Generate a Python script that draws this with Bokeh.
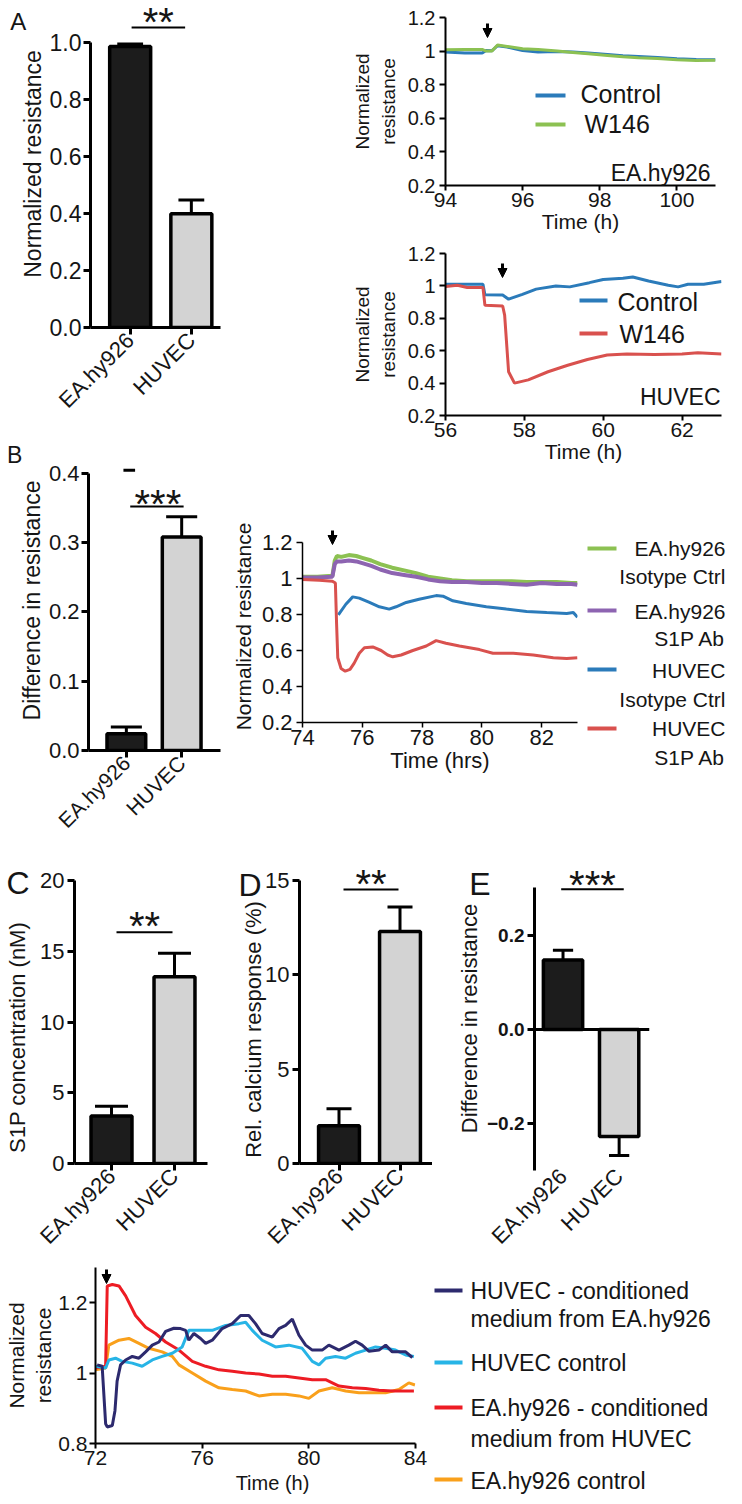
import math
from bokeh.plotting import figure
from bokeh.layouts import row, column
from bokeh.models import (ColumnDataSource, Range1d, FixedTicker, Label, Arrow,
                          NormalHead, Span)
from bokeh.embed import file_html
from bokeh.resources import INLINE

FONT = "Liberation Sans"
INK = "#151515"

# ===================== data =====================
cell_lines = ["EA.hy926", "HUVEC"]
bar_fill = ["#1c1c1c", "#d3d3d3"]

a_norm_res = [0.986, 0.399]
a_norm_res_err = [0.009, 0.048]
b_diff_res = [0.024, 0.308]
b_diff_res_err = [0.010, 0.029]
c_s1p_nM = [3.35, 13.2]
c_s1p_nM_err = [0.70, 1.65]
d_calcium = [2.0, 12.3]
d_calcium_err = [0.90, 1.30]
e_diff_res = [0.147, -0.227]
e_diff_res_err = [0.021, 0.040]

# A, EA.hy926 time course
a_ea_time = [94.0, 94.5, 94.95, 95.05, 95.2, 95.35, 95.6, 96.0, 96.4, 96.9, 97.3,
             97.7, 98.2, 98.6, 99.0, 99.5, 100.0, 100.5, 101.0]
a_ea_control = [0.994, 0.988, 0.988, 1.004, 1.002, 1.032, 1.024, 1.004, 0.994, 0.998,
                0.994, 0.988, 0.980, 0.972, 0.968, 0.962, 0.954, 0.950, 0.948]
a_ea_w146 = [1.008, 1.010, 1.010, 1.000, 1.000, 1.036, 1.028, 1.014, 1.010, 1.000,
             0.992, 0.984, 0.974, 0.966, 0.960, 0.956, 0.948, 0.944, 0.946]

# A, HUVEC time course
a_hu_time_ctrl = [56.0, 56.8, 56.95, 57.0, 57.45, 57.6, 57.95, 58.3, 58.8, 59.15, 59.65,
                  60.0, 60.5, 60.75, 61.15, 61.65, 61.9, 62.15, 62.55, 63.0]
a_hu_control = [1.010, 1.010, 1.010, 0.945, 0.944, 0.918, 0.948, 0.980, 1.000, 0.994,
                1.020, 1.040, 1.047, 1.055, 1.030, 1.004, 0.994, 1.010, 1.010, 1.027]
a_hu_time_w146 = [56.0, 56.3, 56.55, 56.95, 57.0, 57.45, 57.5, 57.6, 57.75, 58.1, 58.6,
                  59.1, 59.6, 60.1, 60.6, 61.3, 62.0, 62.4, 63.0]
a_hu_w146 = [0.996, 1.004, 0.990, 0.990, 0.880, 0.876, 0.820, 0.470, 0.400, 0.420, 0.470,
             0.510, 0.546, 0.573, 0.580, 0.577, 0.580, 0.588, 0.580]

# B, time courses
b_time_ea = [74.0, 74.5, 75.0, 75.08, 75.15, 75.3, 75.55, 75.8, 76.0, 76.3, 76.6, 77.0,
             77.4, 77.8, 78.2, 78.6, 79.0, 79.5, 80.0, 80.5, 81.0, 81.5, 82.0, 82.5, 83.0, 83.2]
b_ea_isotype = [1.010, 1.010, 1.015, 1.100, 1.125, 1.120, 1.130, 1.125, 1.115, 1.100, 1.080,
                1.060, 1.045, 1.030, 1.010, 1.000, 0.990, 0.985, 0.985, 0.985, 0.985, 0.980,
                0.980, 0.980, 0.975, 0.975]
b_ea_s1pab = [1.005, 1.005, 1.010, 1.080, 1.095, 1.095, 1.100, 1.095, 1.085, 1.070, 1.050,
              1.030, 1.020, 1.010, 0.995, 0.985, 0.980, 0.980, 0.975, 0.975, 0.970, 0.965,
              0.975, 0.970, 0.970, 0.965]
b_time_hu_iso = [75.2, 75.45, 75.68, 75.9, 76.24, 76.57, 76.9, 77.13, 77.47, 77.9, 78.47,
                 78.7, 79.03, 79.48, 80.15, 80.82, 81.5, 82.17, 82.84, 83.06, 83.2]
b_hu_isotype = [0.798, 0.857, 0.898, 0.891, 0.867, 0.843, 0.830, 0.843, 0.867, 0.885, 0.905,
                0.902, 0.876, 0.861, 0.843, 0.830, 0.817, 0.811, 0.806, 0.811, 0.785]
b_time_hu_ab = [74.0, 74.56, 75.0, 75.1, 75.14, 75.18, 75.29, 75.43, 75.59, 75.73, 75.9,
                76.07, 76.35, 76.63, 76.85, 77.02, 77.3, 77.69, 78.14, 78.47, 78.8, 79.25,
                79.92, 80.37, 81.05, 81.72, 82.39, 82.84, 83.2]
b_hu_s1pab = [0.995, 0.990, 0.985, 0.975, 0.750, 0.560, 0.500, 0.485, 0.495, 0.530, 0.585,
              0.615, 0.620, 0.600, 0.575, 0.565, 0.575, 0.600, 0.625, 0.655, 0.640, 0.625,
              0.605, 0.585, 0.585, 0.575, 0.560, 0.555, 0.560]

# conditioned medium time courses (bottom panel)
f_time_hu_cm = [72.06, 72.25, 72.38, 72.44, 72.63, 72.73, 72.81, 72.94, 73.13, 73.38, 73.63,
                73.88, 74.13, 74.38, 74.63, 74.94, 75.19, 75.38, 75.5, 75.69, 75.94, 76.13,
                76.38, 76.75, 77.13, 77.44, 77.75, 78.0, 78.25, 78.63, 78.88, 79.13, 79.38,
                79.63, 79.88, 80.13, 80.5, 80.75, 81.13, 81.5, 81.75, 82.0, 82.25, 82.63,
                82.88, 83.13, 83.63, 83.88]
f_hu_cm = [1.023, 1.019, 0.856, 0.847, 0.851, 0.893, 0.977, 1.023, 1.037, 1.047, 1.042,
           1.060, 1.079, 1.088, 1.118, 1.127, 1.126, 1.121, 1.093, 1.112, 1.098, 1.084,
           1.093, 1.126, 1.140, 1.163, 1.163, 1.140, 1.112, 1.102, 1.126, 1.135, 1.153,
           1.107, 1.079, 1.065, 1.065, 1.079, 1.065, 1.079, 1.090, 1.079, 1.062, 1.065,
           1.079, 1.060, 1.060, 1.044]
f_time_hu_ctrl = [72.0, 72.38, 72.5, 72.75, 73.0, 73.38, 73.75, 74.13, 74.5, 74.88, 75.25,
                  75.5, 75.88, 76.38, 76.88, 77.38, 77.63, 77.88, 78.25, 78.75, 79.25, 79.75,
                  80.13, 80.38, 80.63, 81.0, 81.38, 81.75, 82.13, 82.5, 82.88, 83.25, 83.63, 83.94]
f_hu_ctrl = [1.019, 1.014, 1.037, 1.042, 1.033, 1.028, 1.019, 1.037, 1.047, 1.056, 1.074,
             1.121, 1.121, 1.121, 1.135, 1.140, 1.144, 1.121, 1.093, 1.074, 1.079, 1.070,
             1.033, 1.023, 1.042, 1.047, 1.042, 1.056, 1.065, 1.074, 1.070, 1.065, 1.051, 1.047]
f_time_ea_cm = [72.0, 72.38, 72.44, 72.63, 72.88, 73.13, 73.5, 73.88, 74.25, 74.63, 75.13,
                75.63, 76.13, 76.63, 77.13, 77.63, 78.13, 78.63, 79.13, 79.63, 80.13, 80.63,
                81.13, 81.63, 82.13, 82.63, 83.13, 83.94]
f_ea_cm = [1.014, 1.019, 1.247, 1.251, 1.247, 1.219, 1.163, 1.130, 1.112, 1.088, 1.065,
           1.033, 1.019, 1.009, 1.005, 1.000, 0.997, 0.991, 0.991, 0.986, 0.981, 0.981,
           0.963, 0.958, 0.956, 0.951, 0.949, 0.949]
f_time_ea_ctrl = [72.0, 72.38, 72.5, 72.88, 73.25, 73.63, 74.0, 74.5, 74.88, 75.13, 75.63,
                  76.13, 76.63, 77.13, 77.63, 78.13, 78.63, 79.13, 79.63, 80.0, 80.38, 80.88,
                  81.38, 81.88, 82.38, 82.88, 83.38, 83.75, 83.98]
f_ea_ctrl = [1.009, 1.014, 1.079, 1.093, 1.098, 1.084, 1.070, 1.060, 1.047, 1.023, 1.000,
             0.977, 0.958, 0.953, 0.949, 0.935, 0.940, 0.940, 0.935, 0.928, 0.949, 0.958,
             0.949, 0.944, 0.944, 0.944, 0.953, 0.972, 0.966]

norm_ticks = [0.2, 0.4, 0.6, 0.8, 1, 1.2]

# ===================== helpers =====================
def cal(pa, va, pb, vb):
    k = (vb - va) / (pb - pa)
    return lambda px: va + (px - pa) * k


class Panel:
    def __init__(self, canvas, frame=None, xcal=None, ycal=None, axes=True):
        cx0, cy0, cx1, cy1 = canvas
        if frame is None:
            frame = canvas
        if xcal is None:
            xcal = cal(cx0, 0, cx1, 1)
        if ycal is None:
            ycal = cal(cy1, 0, cy0, 1)
        fx0, fy0, fx1, fy1 = frame
        self.X, self.Y = xcal, ycal
        extra = {} if axes else dict(x_axis_location=None, y_axis_location=None)
        p = figure(width=cx1 - cx0, height=cy1 - cy0,
                   x_range=Range1d(xcal(fx0), xcal(fx1)),
                   y_range=Range1d(ycal(fy1), ycal(fy0)),
                   min_border_left=fx0 - cx0, min_border_right=cx1 - fx1,
                   min_border_top=fy0 - cy0, min_border_bottom=cy1 - fy1,
                   output_backend="svg", toolbar_location=None, **extra)
        p.frame_align = False
        p.xgrid.visible = False
        p.ygrid.visible = False
        p.outline_line_color = None
        p.border_fill_color = "white"
        self.p = p

    def label(self, px, py, s, size, align="left", baseline="middle", style="normal",
              side=None, angle=0):
        lab = Label(x=self.X(px), y=self.Y(py), text=s, text_font=FONT,
                    text_font_size=f"{size}px", text_align=align, angle=angle,
                    text_baseline=baseline, text_font_style=style, text_color=INK)
        if side is None:
            self.p.add_layout(lab)
        else:
            self.p.add_layout(lab, side)

    def stars(self, pcx, pcy, s, size=40):
        self.label(pcx, pcy + 6, s, size, align="center", baseline="alphabetic")

    def seg(self, px0, py0, px1, py1, color="black", w=2):
        self.p.add_layout(Arrow(end=None, x_start=self.X(px0), y_start=self.Y(py0),
                                x_end=self.X(px1), y_end=self.Y(py1),
                                line_color=color, line_width=w))

    def down_arrow(self, px, ptop, ptip):
        self.p.add_layout(Arrow(end=NormalHead(size=9, fill_color="black", line_color="black",
                                               line_width=1),
                                x_start=self.X(px), y_start=self.Y(ptop - 2),
                                x_end=self.X(px), y_end=self.Y(ptip),
                                line_color="black", line_width=3))


def style_axis(ax, lw, tick_fs, label_fs, tick_out=7, tick_standoff=4, label_standoff=6):
    ax.axis_line_width = lw
    ax.axis_line_color = "black"
    ax.major_tick_line_width = lw
    ax.major_tick_line_color = "black"
    ax.major_tick_out = tick_out
    ax.major_tick_in = 0
    ax.minor_tick_line_color = None
    ax.major_label_text_font = FONT
    ax.major_label_text_font_size = f"{tick_fs}px"
    ax.major_label_text_color = INK
    ax.major_label_standoff = tick_standoff
    ax.axis_label_text_font = FONT
    ax.axis_label_text_font_size = f"{label_fs}px"
    ax.axis_label_text_font_style = "normal"
    ax.axis_label_text_color = INK
    ax.axis_label_standoff = label_standoff


def bar_panel(P, vals, errs, width, cap_px, yticks, ybounds, ylabel,
              tick_fs, ylabel_fs, cat_fs, overrides=None, tick_standoff=3,
              label_standoff=2, bold=False):
    p = P.p
    xs = [i + 1 for i in range(len(cell_lines))]
    src = ColumnDataSource(dict(x=xs, top=vals, fill=bar_fill))
    ends = [v + e if v >= 0 else v - e for v, e in zip(vals, errs)]
    half = cap_px * (P.X(1) - P.X(0)) / 2
    p.segment(x0=xs, y0=vals, x1=xs, y1=ends, line_color="black", line_width=3)
    p.segment(x0=[x - half for x in xs], y0=ends, x1=[x + half for x in xs], y1=ends,
              line_color="black", line_width=3)
    p.vbar(x="x", top="top", bottom=0, width=width, fill_color="fill",
           line_color="black", line_width=3.5, source=src)
    xa, ya = p.xaxis[0], p.yaxis[0]
    style_axis(xa, 3, cat_fs, 10, tick_out=7, tick_standoff=2)
    style_axis(ya, 3, tick_fs, ylabel_fs, tick_out=7, tick_standoff=tick_standoff,
               label_standoff=label_standoff)
    xa.ticker = FixedTicker(ticks=xs)
    xa.major_label_overrides = {x: c for x, c in zip(xs, cell_lines)}
    xa.major_label_orientation = math.pi / 4
    ya.ticker = FixedTicker(ticks=yticks)
    if overrides:
        ya.major_label_overrides = overrides
    ya.bounds = ybounds
    if ylabel:
        ya.axis_label = ylabel
    if bold:
        ya.major_label_text_font_style = "bold"


def line_axes(P, xticks, xbounds, ybounds, xlabel, ylabel, lw, xtick_fs, ytick_fs,
              xlabel_fs, ylabel_fs, yticks=norm_ticks, y_label_standoff=6, y_tick_standoff=4):
    p = P.p
    xa, ya = p.xaxis[0], p.yaxis[0]
    style_axis(xa, lw, xtick_fs, xlabel_fs, tick_out=5, tick_standoff=2, label_standoff=0)
    style_axis(ya, lw, ytick_fs, ylabel_fs, tick_out=6, tick_standoff=y_tick_standoff,
               label_standoff=y_label_standoff)
    xa.ticker = FixedTicker(ticks=xticks)
    ya.ticker = FixedTicker(ticks=yticks)
    ya.major_label_overrides = {1: "1"}
    if xbounds is not None:
        xa.bounds = xbounds
    ya.bounds = ybounds
    if xlabel:
        xa.axis_label = xlabel
    ya.axis_label = ylabel


# ===================== colours =====================
BLUE = "#2b7bba"
GREEN = "#8cc152"
RED_A = "#d9514e"
PURPLE = "#8d64b1"
NAVY = "#2d2a6e"
CYAN = "#27b4e6"
RED_F = "#ed1c24"
ORANGE = "#f9a01b"

# ===================== panel A (bar) =====================
PA = Panel((8, 0, 236, 440), (92, 0, 228, 327), cal(133.5, 1, 197.5, 2), cal(327, 0, 42, 1.0))
bar_panel(PA, a_norm_res, a_norm_res_err, 0.67, 27, [0, 0.2, 0.4, 0.6, 0.8, 1.0], (0, 1.0),
          "Normalized resistance", 23, 23, 22, overrides={0: "0.0", 1: "1.0"},
          tick_standoff=2, label_standoff=1)
PA.label(8, 21, "A", 24, side="left")
PA.stars(163, 15, "**")
PA.seg(135, 27, 191, 27)

# ===================== panel B (bar) =====================
PB = Panel((8, 440, 236, 843), (92, 450, 228, 755), cal(131, 1, 188, 2), cal(755, 0, 473, 0.4))
bar_panel(PB, b_diff_res, b_diff_res_err, 0.70, 32, [0, 0.1, 0.2, 0.3, 0.4], (0, 0.4),
          "Difference in resistance", 22, 23, 21, overrides={0: "0.0"},
          tick_standoff=2, label_standoff=1)
PB.label(8, 455, "B", 23, side="left")
PB.stars(163.5, 498, "***")
PB.seg(135, 507, 190, 507)
PB.seg(128, 470, 140, 470, w=3)

# ===================== panel A (EA.hy926 trace) =====================
PAT = Panel((236, 0, 734, 238), (453, 17, 723, 185), cal(453, 94, 723, 101), cal(185, 0.2, 17, 1.2))
PAT.p.line(a_ea_time, a_ea_control, line_color=BLUE, line_width=3)
PAT.p.line(a_ea_time, a_ea_w146, line_color=GREEN, line_width=3)
line_axes(PAT, [94, 96, 98, 100], None, (0.2, 1.2), "Time (h)", "Normalized\nresistance",
          2, 21, 20, 21, 19)
PAT.down_arrow(495, 25, 37)
PAT.seg(543, 95, 573, 95, color=BLUE, w=4)
PAT.label(588, 93.5, "Control", 25)
PAT.seg(543, 124, 573, 124, color=GREEN, w=4)
PAT.label(592, 123.5, "W146", 25)
PAT.label(718, 172, "EA.hy926", 23, align="right")

# ===================== panel A (HUVEC trace) =====================
PAB = Panel((236, 238, 734, 472), (453, 253, 729, 415), cal(453, 56, 729, 63), cal(415, 0.2, 253, 1.2))
PAB.p.line(a_hu_time_ctrl, a_hu_control, line_color=BLUE, line_width=3)
PAB.p.line(a_hu_time_w146, a_hu_w146, line_color=RED_A, line_width=3)
line_axes(PAB, [56, 58, 60, 62], None, (0.2, 1.2), "Time (h)", "Normalized\nresistance",
          2, 21, 20, 21, 19)
PAB.down_arrow(510, 265, 277)
PAB.seg(587, 300, 615, 300, color=BLUE, w=4)
PAB.label(625, 301, "Control", 25)
PAB.seg(587, 333, 615, 333, color=RED_A, w=4)
PAB.label(627, 333, "W146", 25)
PAB.label(728, 396, "HUVEC", 23, align="right")

# ===================== panel B (traces) =====================
PBL = Panel((236, 472, 589, 843), (310, 530, 585, 722), cal(310, 74, 585, 83.2), cal(722, 0.2, 542, 1.2))
PBL.p.line(b_time_ea, b_ea_isotype, line_color=GREEN, line_width=4)
PBL.p.line(b_time_ea, b_ea_s1pab, line_color=PURPLE, line_width=4)
PBL.p.line(b_time_hu_iso, b_hu_isotype, line_color=BLUE, line_width=3)
PBL.p.line(b_time_hu_ab, b_hu_s1pab, line_color=RED_A, line_width=3)
line_axes(PBL, [74, 76, 78, 80, 82], (74, 83.2), (0.2, 1.2), "Time (hrs)",
          "Normalized resistance", 1.5, 22, 22, 22, 21, y_label_standoff=4)
PBL.down_arrow(340, 531, 544)

# legend for panel B traces
LB = Panel((589, 472, 734, 843), axes=False)
b_leg = [(GREEN, 548, ["EA.hy926", "Isotype Ctrl"], [548, 576]),
         (PURPLE, 610, ["EA.hy926", "S1P Ab"], [611, 638]),
         (BLUE, 669, ["HUVEC", "Isotype Ctrl"], [670, 699]),
         (RED_A, 728, ["HUVEC", "S1P Ab"], [728, 757])]
for col, ly, lines, tys in b_leg:
    LB.seg(595, ly, 624, ly, color=col, w=4)
    for s, ty in zip(lines, tys):
        LB.label(733, ty, s, 21, align="right")

# ===================== panel C =====================
PC = Panel((8, 843, 222, 1260), (82, 880, 215, 1165), cal(119, 1, 182, 2), cal(1165, 0, 880, 20))
bar_panel(PC, c_s1p_nM, c_s1p_nM_err, 0.65, 33, [0, 5, 10, 15, 20], (0, 20),
          None, 22, 22, 22)
PC.label(25, 1038, "S1P concentration (nM)", 22, align="center", angle=math.pi / 2, side="left")
PC.label(14, 883, "C", 32, side="above")
PC.stars(152, 920, "**")
PC.seg(124, 932, 180, 932)

# ===================== panel D =====================
PD = Panel((222, 843, 440, 1260), (307, 865, 440, 1163), cal(346.5, 1, 407.5, 2), cal(1163, 0, 880, 15))
bar_panel(PD, d_calcium, d_calcium_err, 0.67, 25, [0, 5, 10, 15], (0, 15),
          None, 22, 22, 22)
PD.label(261, 1029, "Rel. calcium response (%)", 22, align="center", angle=math.pi / 2,
         side="left")
PD.label(246, 884, "D", 32, side="left")
PD.stars(378.5, 877, "**")
PD.seg(351, 889, 406, 889)

# ===================== panel E =====================
PE = Panel((440, 843, 734, 1260), (532, 866, 657, 1172), cal(563, 1, 624, 2), cal(1030, 0, 935, 0.2))
bar_panel(PE, e_diff_res, e_diff_res_err, 0.70, 22, [-0.2, 0, 0.2], (-0.3, 0.3),
          "Difference in resistance", 19, 22, 22, overrides={0: "0.0"}, bold=True)
PE.p.xaxis[0].axis_line_color = None
PE.p.xaxis[0].major_tick_line_color = None
PE.p.xaxis[0].major_tick_out = 0
PE.p.add_layout(Span(location=0, dimension="width", line_color="black", line_width=3))
PE.label(461, 884, "E", 32, side="left")
PE.stars(595, 879, "***")
PE.seg(561, 889, 629, 889)

# ===================== bottom panel =====================
PF = Panel((8, 1260, 440, 1496), (103, 1267, 423, 1443), cal(103, 72, 423, 84), cal(1443, 0.8, 1302, 1.2))
PF.p.line(f_time_ea_ctrl, f_ea_ctrl, line_color=ORANGE, line_width=3)
PF.p.line(f_time_ea_cm, f_ea_cm, line_color=RED_F, line_width=3)
PF.p.line(f_time_hu_ctrl, f_hu_ctrl, line_color=CYAN, line_width=3)
PF.p.line(f_time_hu_cm, f_hu_cm, line_color=NAVY, line_width=3)
line_axes(PF, [72, 76, 80, 84], (72, 84), (0.8, 1.3), None, "Normalized\nresistance",
          2, 21, 21, 20, 21, yticks=[0.8, 1, 1.2], y_label_standoff=0, y_tick_standoff=2)
PF.label(280, 1482, "Time (h)", 20, align="center", side="below")
PF.down_arrow(114, 1271, 1283)

# legend for bottom panel
LF = Panel((440, 1260, 734, 1496), axes=False)
f_leg = [(NAVY, 1290, ["HUVEC - conditioned", "medium from EA.hy926"], [1290, 1318]),
         (CYAN, 1362, ["HUVEC control"], [1362]),
         (RED_F, 1407, ["EA.hy926 - conditioned", "medium from HUVEC"], [1407, 1438]),
         (ORANGE, 1479, ["EA.hy926 control"], [1480])]
for col, ly, lines, tys in f_leg:
    LF.seg(442, ly, 470, ly, color=col, w=4)
    for s, ty in zip(lines, tys):
        LF.label(478, ty, s, 23)

# ===================== layout =====================
left = column(PA.p, PB.p, spacing=0)
right = column(PAT.p, PAB.p, row(PBL.p, LB.p, spacing=0), spacing=0)
top = row(left, right, spacing=0)
mid = row(PC.p, PD.p, PE.p, spacing=0)
bottom = row(PF.p, LF.p, spacing=0)
layout = column(top, mid, bottom, spacing=0)

open("out.html", "w").write(file_html(layout, INLINE))
